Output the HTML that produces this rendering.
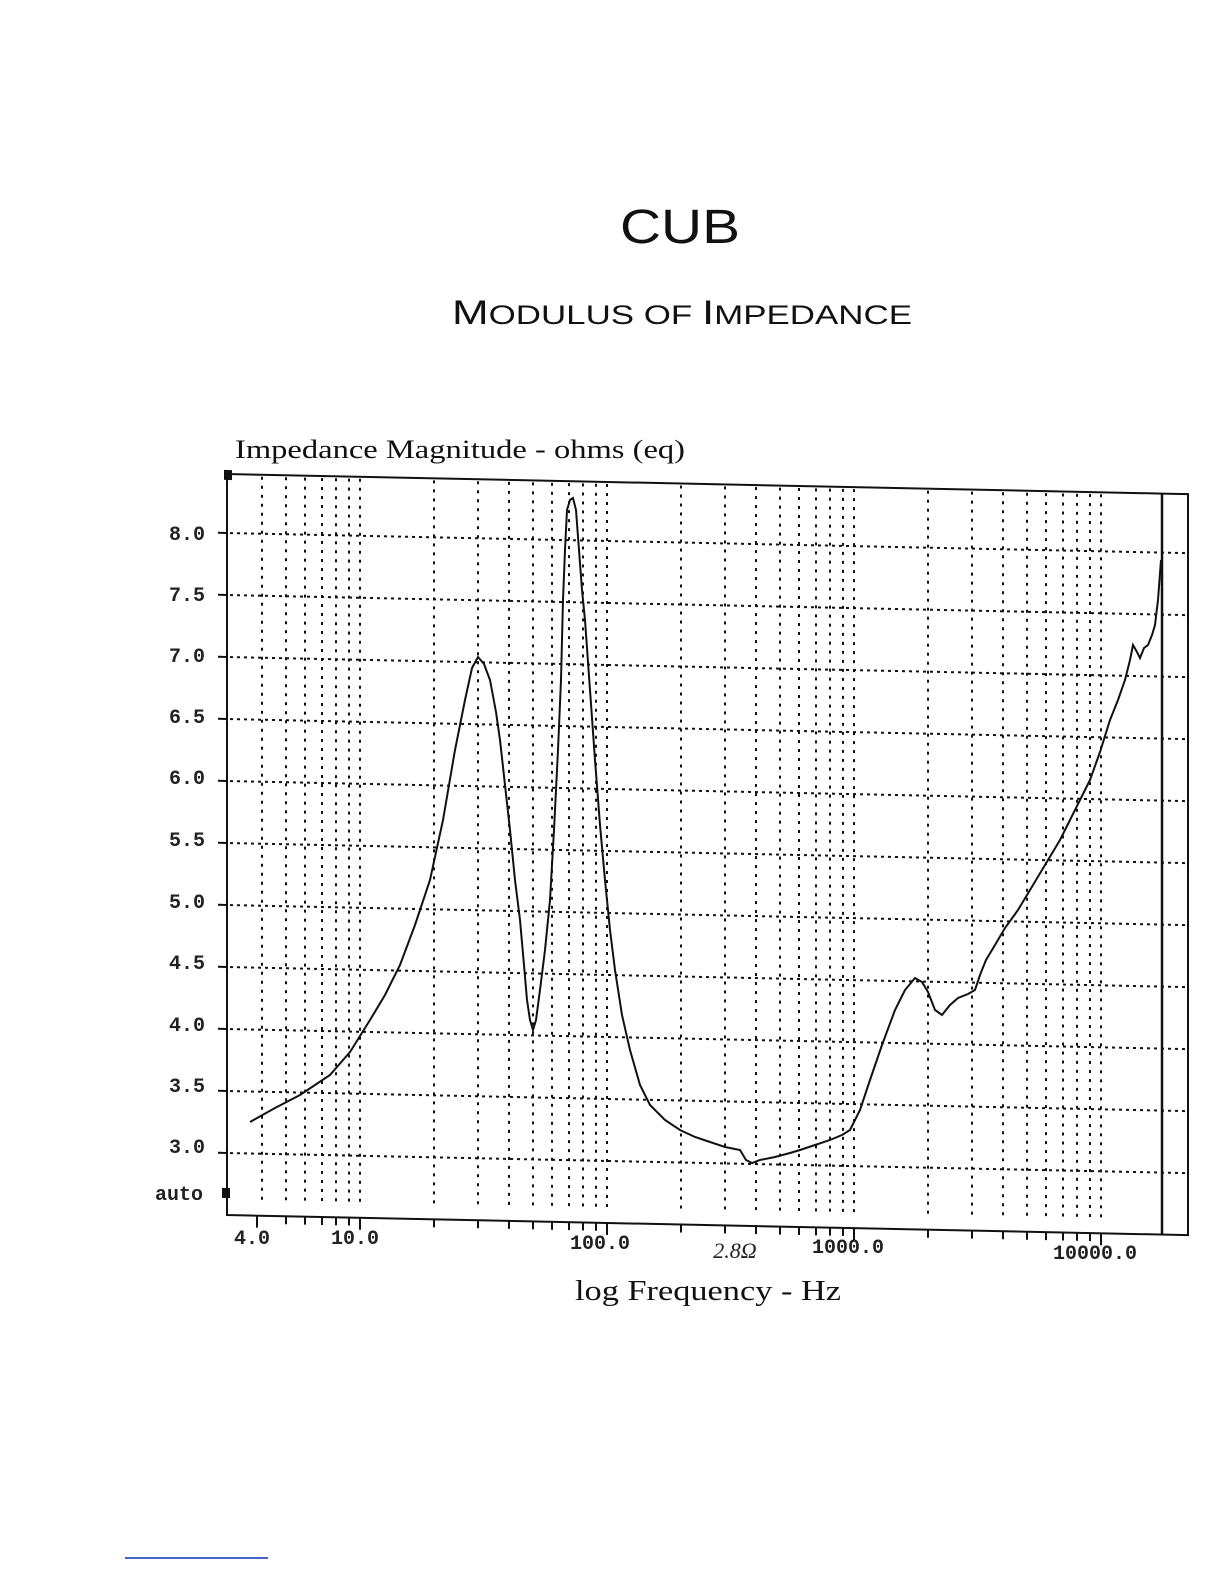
<!DOCTYPE html>
<html><head><meta charset="utf-8"><style>
html,body{margin:0;padding:0;background:#fff;}
svg{display:block}
</style></head><body>
<svg width="1224" height="1584" viewBox="0 0 1224 1584" xmlns="http://www.w3.org/2000/svg">
<rect width="1224" height="1584" fill="#fff"/>
<text x="620" y="243" font-family="Liberation Sans, sans-serif" font-size="48" fill="#111" textLength="120" lengthAdjust="spacingAndGlyphs">CUB</text>
<text x="452" y="324" font-family="Liberation Sans, sans-serif" font-size="34" fill="#111" textLength="460" lengthAdjust="spacingAndGlyphs">M<tspan font-size="27">ODULUS OF </tspan>I<tspan font-size="27">MPEDANCE</tspan></text>
<text x="235" y="458" font-family="Liberation Serif, serif" font-size="26" fill="#111" textLength="450" lengthAdjust="spacingAndGlyphs">Impedance Magnitude - ohms (eq)</text>
<g font-family="Liberation Mono, monospace" font-size="20" font-weight="bold" fill="#222" text-anchor="end">
<text x="205" y="540">8.0</text><text x="205" y="601">7.5</text><text x="205" y="662">7.0</text>
<text x="205" y="723">6.5</text><text x="205" y="784">6.0</text><text x="205" y="846">5.5</text>
<text x="205" y="908">5.0</text><text x="205" y="969">4.5</text><text x="205" y="1031">4.0</text>
<text x="205" y="1092">3.5</text><text x="205" y="1153">3.0</text><text x="203" y="1200">auto</text>
</g>
<g font-family="Liberation Mono, monospace" font-size="20" font-weight="bold" fill="#222" text-anchor="middle">
<text x="252" y="1244">4.0</text><text x="355" y="1244">10.0</text><text x="600" y="1249">100.0</text>
<text x="848" y="1253">1000.0</text><text x="1095" y="1259">10000.0</text>
</g>
<text x="735" y="1258" font-family="Liberation Serif, serif" font-style="italic" font-size="22" fill="#222" text-anchor="middle">2.8Ω</text>
<text x="708" y="1300" font-family="Liberation Serif, serif" font-size="28" fill="#111" text-anchor="middle" textLength="266" lengthAdjust="spacingAndGlyphs">log Frequency - Hz</text>
<line x1="125" y1="1558" x2="268" y2="1558" stroke="#4466cc" stroke-width="2"/>
<g transform="translate(227,0) skewY(1.2) translate(-227,0)" fill="none" stroke="#111">
<polyline points="1162,474 227,474 227,1215 1188,1215 1188,474 1162,474" stroke-width="2"/>
<line x1="1162" y1="474" x2="1162" y2="1215" stroke-width="2.5"/>
<g stroke-dasharray="3,4" stroke-width="2">
<line x1="230" y1="533" x2="1188" y2="533"/><line x1="230" y1="595" x2="1188" y2="595"/>
<line x1="230" y1="657" x2="1188" y2="657"/><line x1="230" y1="719" x2="1188" y2="719"/>
<line x1="230" y1="781" x2="1188" y2="781"/><line x1="230" y1="843" x2="1188" y2="843"/>
<line x1="230" y1="905" x2="1188" y2="905"/><line x1="230" y1="967" x2="1188" y2="967"/>
<line x1="230" y1="1029" x2="1188" y2="1029"/><line x1="230" y1="1091" x2="1188" y2="1091"/>
<line x1="230" y1="1153" x2="1188" y2="1153"/>
</g>
<g stroke-dasharray="3,6" stroke-width="2">
<line x1="262" y1="476" x2="262" y2="1205"/><line x1="286" y1="476" x2="286" y2="1205"/>
<line x1="305" y1="476" x2="305" y2="1205"/><line x1="322" y1="476" x2="322" y2="1205"/>
<line x1="336" y1="476" x2="336" y2="1205"/><line x1="349" y1="476" x2="349" y2="1205"/>
<line x1="360" y1="476" x2="360" y2="1205"/>
<line x1="434" y1="476" x2="434" y2="1205"/><line x1="478" y1="476" x2="478" y2="1205"/>
<line x1="509" y1="476" x2="509" y2="1205"/><line x1="533" y1="476" x2="533" y2="1205"/>
<line x1="552" y1="476" x2="552" y2="1205"/><line x1="569" y1="476" x2="569" y2="1205"/>
<line x1="583" y1="476" x2="583" y2="1205"/><line x1="596" y1="476" x2="596" y2="1205"/>
<line x1="607" y1="476" x2="607" y2="1205"/>
<line x1="681" y1="476" x2="681" y2="1205"/><line x1="725" y1="476" x2="725" y2="1205"/>
<line x1="756" y1="476" x2="756" y2="1205"/><line x1="780" y1="476" x2="780" y2="1205"/>
<line x1="799" y1="476" x2="799" y2="1205"/><line x1="816" y1="476" x2="816" y2="1205"/>
<line x1="830" y1="476" x2="830" y2="1205"/><line x1="843" y1="476" x2="843" y2="1205"/>
<line x1="854" y1="476" x2="854" y2="1205"/>
<line x1="928" y1="476" x2="928" y2="1205"/><line x1="972" y1="476" x2="972" y2="1205"/>
<line x1="1003" y1="476" x2="1003" y2="1205"/><line x1="1027" y1="476" x2="1027" y2="1205"/>
<line x1="1046" y1="476" x2="1046" y2="1205"/><line x1="1063" y1="476" x2="1063" y2="1205"/>
<line x1="1077" y1="476" x2="1077" y2="1205"/><line x1="1090" y1="476" x2="1090" y2="1205"/>
<line x1="1101" y1="476" x2="1101" y2="1205"/>
</g>
<g stroke-width="2">
<path d="M218 533h9M218 595h9M218 657h9M218 719h9M218 781h9M218 843h9M218 905h9M218 967h9M218 1029h9M218 1091h9M218 1153h9"/>
<path d="M257 1215v12M286 1215v8M305 1215v8M322 1215v8M336 1215v8M349 1215v8M360 1215v12M434 1215v8M478 1215v8M509 1215v8M533 1215v8M552 1215v8M569 1215v8M583 1215v8M596 1215v8M607 1215v12M681 1215v8M725 1215v8M756 1215v8M780 1215v8M799 1215v8M816 1215v8M830 1215v8M843 1215v8M854 1215v12M928 1215v8M972 1215v8M1003 1215v8M1027 1215v8M1046 1215v8M1063 1215v8M1077 1215v8M1090 1215v8M1101 1215v12"/>
</g>
<rect x="224" y="470" width="8" height="10" fill="#111" stroke="none"/>
<rect x="222" y="1188" width="8" height="10" fill="#111" stroke="none"/>
</g>
<polyline fill="none" stroke="#111" stroke-width="2" points="250,1122 275,1108 300,1095 330,1075 350,1052 370,1020 385,995 400,965 415,925 430,880 443,820 455,750 465,700 472,668 478,657 484,664 490,680 496,712 500,740 505,785 510,830 515,880 520,920 524,965 527,1000 530,1020 533,1030 536,1020 540,990 545,950 550,900 554,830 558,750 561,680 563,600 565,550 567,510 570,500 573,498 576,510 579,550 582,590 585,620 590,690 595,760 600,825 605,880 610,930 615,970 622,1015 630,1050 640,1085 650,1105 665,1120 680,1130 695,1137 710,1142 725,1147 740,1150 746,1160 752,1163 760,1160 775,1157 790,1153 800,1150 815,1145 830,1140 842,1135 850,1130 860,1110 870,1080 882,1045 895,1010 905,990 915,978 922,982 928,992 935,1010 942,1015 950,1005 958,998 968,994 975,990 980,975 986,960 995,945 1005,928 1018,910 1030,890 1045,865 1060,840 1075,810 1090,780 1100,752 1110,720 1118,700 1125,680 1130,660 1133,645 1137,652 1140,658 1144,648 1148,645 1152,635 1155,625 1158,600 1161,560"/>
</svg>
</body></html>
